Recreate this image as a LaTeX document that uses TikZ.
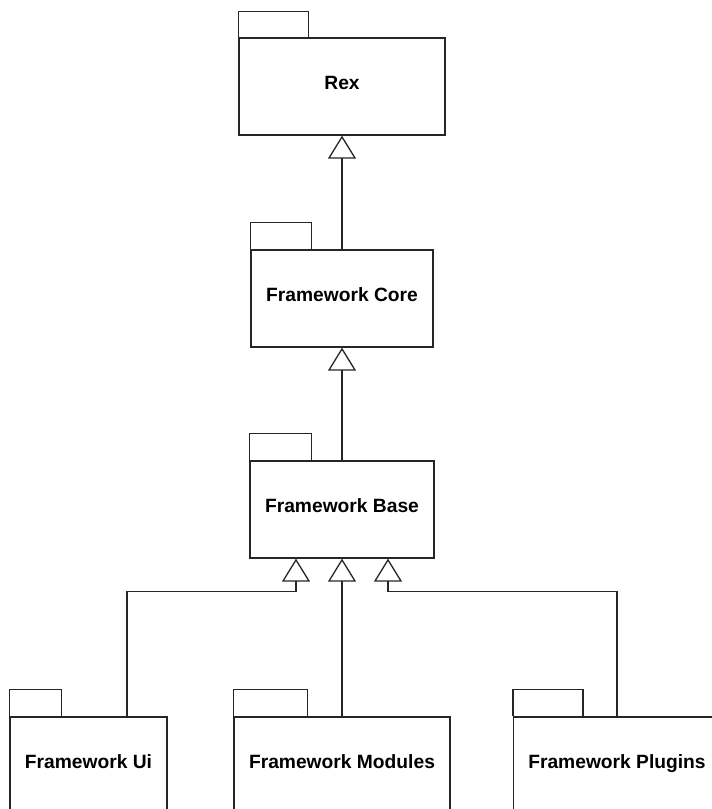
\documentclass[tikz,border=0pt]{standalone}
\usepackage{fontspec}
\setmainfont{Liberation Sans}
\usetikzlibrary{arrows.meta}
\begin{document}
\begin{tikzpicture}[x=1bp,y=-1bp,
  pkg/.style={draw=black!85, line width=1.3bp, fill=white, minimum height=97bp, inner sep=0pt,
    text height=0.72em, text depth=0.05em,
    font=\bfseries\fontsize{19.3}{22}\selectfont},
  tabst/.style={draw=black!85, line width=1.3bp},
  inh/.style={draw=black!85, line width=1.3bp, -{Triangle[open, length=23bp, width=28bp, line width=1.3bp]}}]
\useasboundingbox (0,0) rectangle (712,809);
% packages
\node[pkg, minimum width=206bp] (rex) at (342,86.5) {Rex};
\node[pkg, minimum width=182bp] (core) at (342,298.5) {Framework Core};
\node[pkg, minimum width=184bp] (base) at (342,509.5) {Framework Base};
\node[pkg, minimum width=157bp] (ui) at (88.5,765.5) {Framework Ui};
\node[pkg, minimum width=216bp] (modules) at (342,765.5) {Framework Modules};
\node[pkg, minimum width=207bp] (plugins) at (617,765.5) {Framework Plugins};
% tabs
\draw[tabst] (rex.north west) -- ++(0,-26) -- ++(70,0) -- ++(0,26);
\draw[tabst] (core.north west) -- ++(0,-27) -- ++(61,0) -- ++(0,27);
\draw[tabst] (base.north west) -- ++(0,-27) -- ++(62,0) -- ++(0,27);
\draw[tabst] (ui.north west) -- ++(0,-27) -- ++(52,0) -- ++(0,27);
\draw[tabst] (modules.north west) -- ++(0,-27) -- ++(74,0) -- ++(0,27);
\draw[tabst] (plugins.north west) -- ++(0,-27) -- ++(70,0) -- ++(0,27);
% generalisations
\draw[inh] (core.north) -- (rex.south);
\draw[inh] (base.north) -- (core.south);
\draw[inh] ([xshift=38.5bp]ui.north) -- ++(0,-125) -| ([xshift=-46bp]base.south);
\draw[inh] (modules.north) -- (base.south);
\draw[inh] (plugins.north) -- ++(0,-125) -| ([xshift=46bp]base.south);
\end{tikzpicture}
\end{document}
